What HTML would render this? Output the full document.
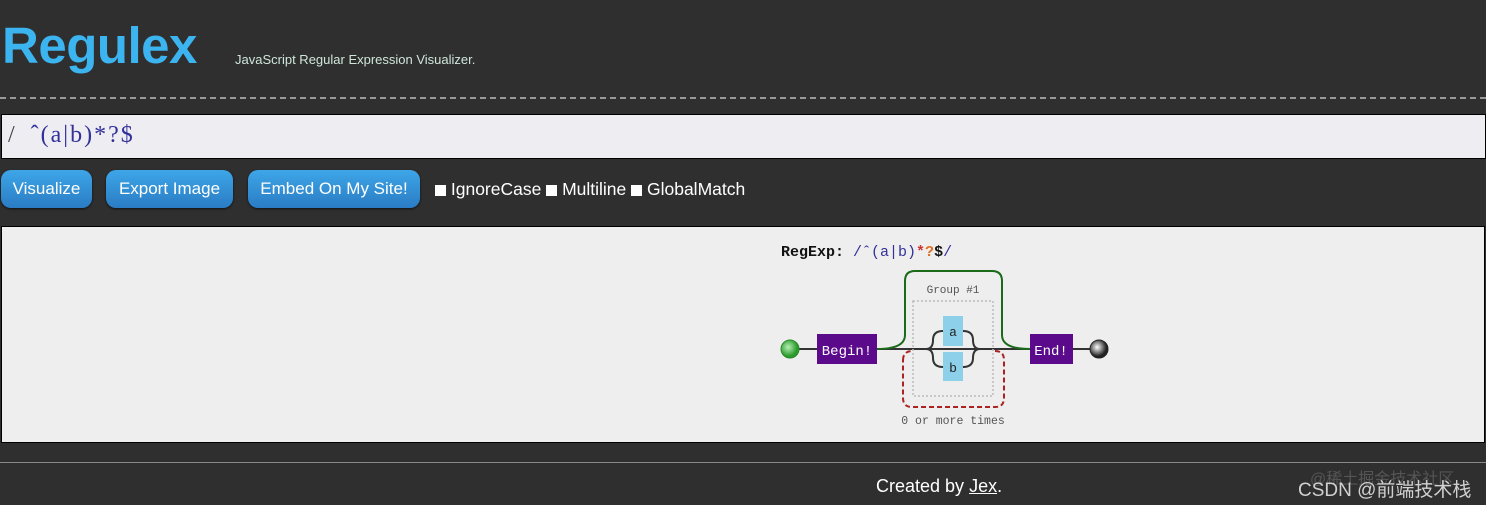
<!DOCTYPE html>
<html><head><meta charset="utf-8"><style>
html,body{margin:0;padding:0;}
body{width:1486px;height:505px;background:#2f2f2f;position:relative;overflow:hidden;font-family:"Liberation Sans",sans-serif;}
.a{position:absolute;}
.btn{position:absolute;top:170px;height:38px;border-radius:10px;background:linear-gradient(#3ea6e8,#2a7cc4);color:#fff;font-size:17px;line-height:38px;text-align:center;box-shadow:0 1px 2px #111;}
</style></head><body>
<div class="a" style="left:2px;top:16px;font-size:51px;font-weight:bold;color:#3cb4f0;letter-spacing:-0.5px;">Regulex</div>
<div class="a" style="left:235px;top:52px;font-size:13px;color:#cfe6dc;">JavaScript Regular Expression Visualizer.</div>
<div class="a" style="left:0;top:97px;width:1486px;border-top:2px dashed #999;"></div>
<div class="a" style="left:1px;top:114px;width:1483px;height:43px;background:#eeeef2;border:1px solid #000;"></div>
<div class="a" style="left:8px;top:122px;font-family:'Liberation Serif',serif;font-size:24px;color:#33309a;white-space:pre;"><span style="color:#444">/</span><span style="letter-spacing:2px">  ˆ(a|b)*?$</span></div>
<div class="btn" style="left:1px;width:91px;">Visualize</div>
<div class="btn" style="left:106px;width:127px;">Export Image</div>
<div class="btn" style="left:248px;width:172px;">Embed On My Site!</div>
<div class="a" style="left:435px;top:179px;font-size:17.5px;color:#fff;white-space:pre;"><span style="display:inline-block;width:11px;height:11px;background:#fff;vertical-align:-1px"></span> IgnoreCase <span style="display:inline-block;width:11px;height:11px;background:#fff;vertical-align:-1px"></span> Multiline <span style="display:inline-block;width:11px;height:11px;background:#fff;vertical-align:-1px"></span> GlobalMatch</div>
<div class="a" style="left:1px;top:226px;width:1482px;height:215px;background:#eee;border:1px solid #000;"></div>
<svg class="a" style="left:0;top:0" width="1486" height="505">
<defs><radialGradient id="g1" cx="40%" cy="40%"><stop offset="0" stop-color="#b6f0b6"/><stop offset="1" stop-color="#2a9a2a"/></radialGradient>
<radialGradient id="g2" cx="40%" cy="40%"><stop offset="0" stop-color="#fff"/><stop offset="1" stop-color="#222"/></radialGradient></defs>
<text x="781" y="256" font-family="Liberation Mono,monospace" font-size="15" font-weight="bold" fill="#111">RegExp: <tspan fill="#33309a" font-weight="normal">/ˆ(a|b)</tspan><tspan fill="#c33">*</tspan><tspan fill="#e07020">?</tspan><tspan>$</tspan><tspan fill="#33309a" font-weight="normal">/</tspan></text>
<line x1="798" y1="349" x2="1090" y2="349" stroke="#333" stroke-width="2"/>
<path d="M877 349 Q905 349 905 335 V281 Q905 271 915 271 H992 Q1002 271 1002 281 V335 Q1002 349 1030 349" fill="none" stroke="#1a6a1a" stroke-width="2"/>
<path d="M903 360 Q903 351 913 351 M995 351 Q1004 351 1004 360 V398 Q1004 407 995 407 H912 Q903 407 903 398 V360" fill="none" stroke="#a22" stroke-width="2" stroke-dasharray="5,3"/>
<rect x="913" y="301" width="80" height="95" fill="none" stroke="#bbb" stroke-width="1.5" stroke-dasharray="2,2"/>
<text x="953" y="293" text-anchor="middle" font-family="Liberation Mono,monospace" font-size="11" fill="#555">Group #1</text>
<path d="M926 349 Q933 349 933 340 Q933 331 943 331 M926 349 Q933 349 933 358 Q933 367 943 367 M980 349 Q973 349 973 340 Q973 331 963 331 M980 349 Q973 349 973 358 Q973 367 963 367" fill="none" stroke="#333" stroke-width="2"/>
<rect x="943" y="316" width="20" height="30" fill="#8dd0ea"/>
<rect x="943" y="352" width="20" height="29" fill="#8dd0ea"/>
<text x="953" y="336" text-anchor="middle" font-family="Liberation Mono,monospace" font-size="13" fill="#222">a</text>
<text x="953" y="372" text-anchor="middle" font-family="Liberation Mono,monospace" font-size="13" fill="#222">b</text>
<text x="953" y="424" text-anchor="middle" font-family="Liberation Mono,monospace" font-size="11.5" fill="#555">0 or more times</text>
<rect x="817" y="334" width="60" height="30" fill="#5a0a8a"/>
<text x="847" y="355" text-anchor="middle" font-family="Liberation Mono,monospace" font-size="14" fill="#fff">Begin!</text>
<rect x="1030" y="334" width="43" height="30" fill="#5a0a8a"/>
<text x="1051" y="355" text-anchor="middle" font-family="Liberation Mono,monospace" font-size="14" fill="#fff">End!</text>
<circle cx="790" cy="349" r="9" fill="url(#g1)" stroke="#2a8a2a"/>
<circle cx="1099" cy="349" r="9" fill="url(#g2)" stroke="#222"/>
</svg>
<div class="a" style="left:0;top:462px;width:1486px;border-top:1px solid #888;"></div>
<div class="a" style="left:876px;top:476px;font-size:18px;color:#fff;">Created by <u>Jex</u>.</div>
<div class="a" style="left:1310px;top:465px;font-size:16px;color:#555;font-family:'Liberation Sans','Noto Sans CJK SC',sans-serif;">@稀土掘金技术社区</div>
<div class="a" style="left:1298px;top:475px;font-size:19px;color:#d0d0d0;font-family:'Liberation Sans','Noto Sans CJK SC',sans-serif;">CSDN @前端技术栈</div>
</body></html>
